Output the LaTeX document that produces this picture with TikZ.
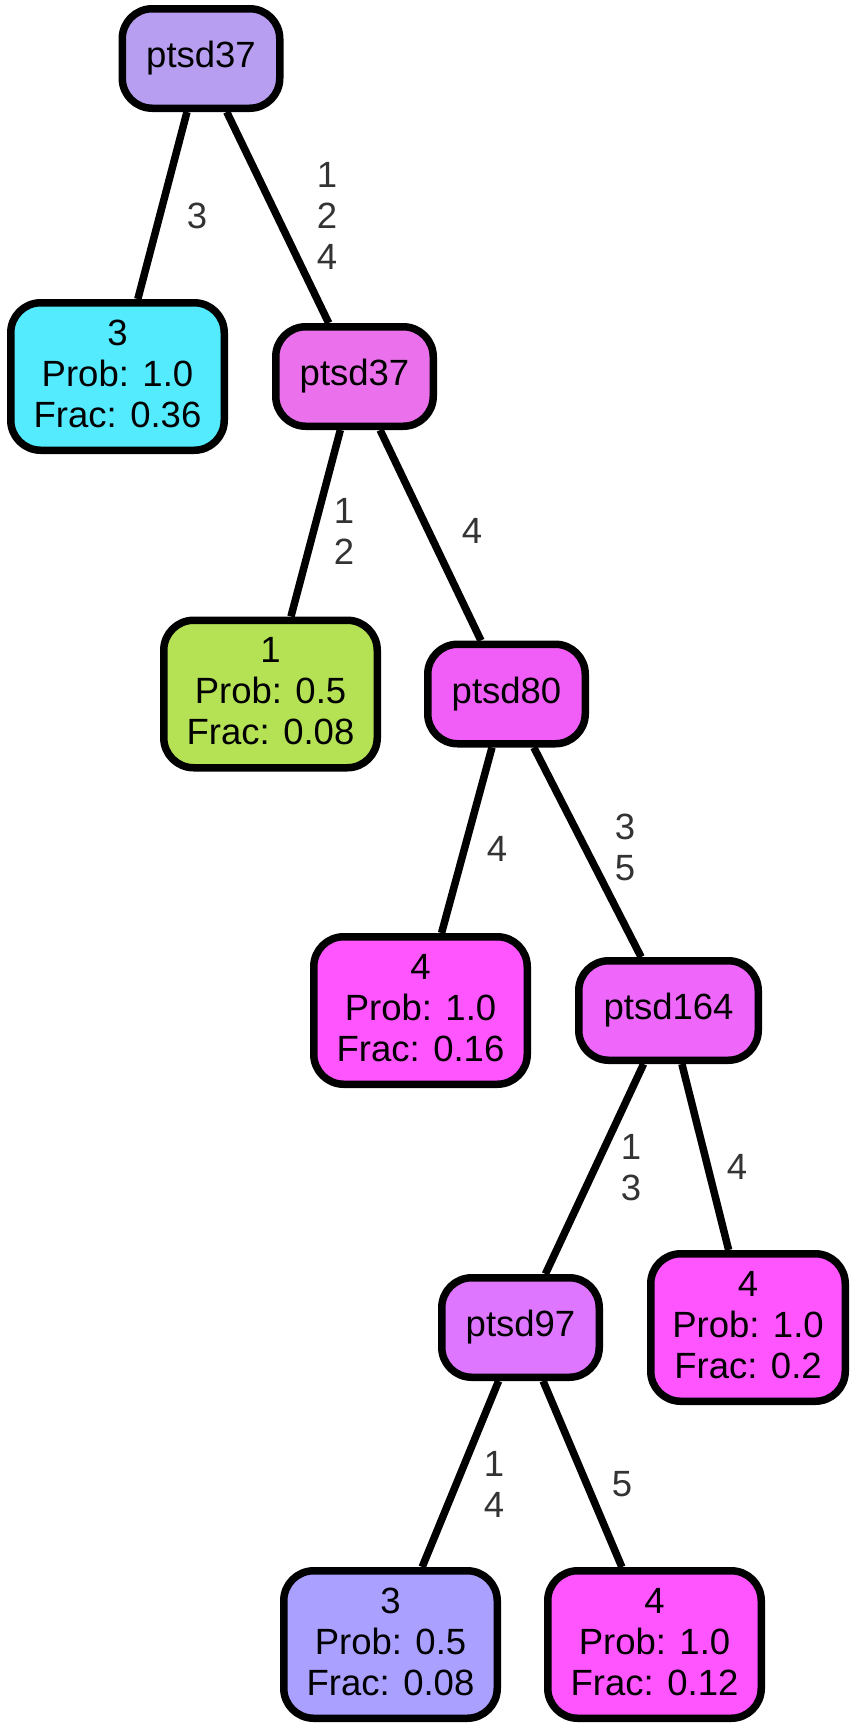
\documentclass[tikz,border=0pt]{standalone}
\usepackage{fontspec}
\setmainfont{Liberation Sans}
\usetikzlibrary{backgrounds}
\definecolor{cRoot}{HTML}{B89EF1}
\definecolor{cCyan}{HTML}{55EBFF}
\definecolor{cPink}{HTML}{EB70EB}
\definecolor{cGreen}{HTML}{B5E155}
\definecolor{cEighty}{HTML}{F15EF7}
\definecolor{cMag}{HTML}{FF55FF}
\definecolor{cOneSix}{HTML}{EE66FA}
\definecolor{cNineSeven}{HTML}{DE76FF}
\definecolor{cLav}{HTML}{AAA0FF}
\definecolor{cLabel}{HTML}{333333}
\tikzset{
  base/.style={draw=black, line width=7.5pt, rounded corners=30pt, inner sep=0pt,
    font=\fontsize{36.5}{41}\selectfont, align=center},
  inner/.style={base, minimum width=157.5pt, minimum height=99.5pt},
  leaf/.style={base, minimum width=213.5pt, minimum height=147.5pt, text height=108pt, text depth=7pt},
  conn/.style={line width=7.5pt, draw=black},
  elabel/.style={font=\fontsize{36.5}{41}\selectfont, text=cLabel, align=center, inner sep=0pt}
}
\begin{document}
\begin{tikzpicture}[x=1pt,y=-1pt]
\useasboundingbox (0,0) rectangle (858,1729);
% nodes
\node[inner, fill=cRoot] (root) at (201,58.5) {ptsd37};
\node[leaf, fill=cCyan] (lcyan) at (117.5,376.5) {3\\Prob: 1.0\\Frac: 0.36};
\node[inner, fill=cPink] (pink) at (354.5,376.5) {ptsd37};
\node[leaf, fill=cGreen] (lgreen) at (270.5,694) {1\\Prob: 0.5\\Frac: 0.08};
\node[inner, fill=cEighty] (p80) at (506.5,694) {ptsd80};
\node[leaf, fill=cMag] (lsixteen) at (420.5,1010.5) {4\\Prob: 1.0\\Frac: 0.16};
\node[inner, fill=cOneSix, minimum width=179.5pt] (p164) at (668.5,1010.5) {ptsd164};
\node[inner, fill=cNineSeven] (p97) at (520.5,1327.5) {ptsd97};
\node[leaf, fill=cMag, minimum width=194.5pt] (ltwenty) at (748,1327.5) {4\\Prob: 1.0\\Frac: 0.2};
\node[leaf, fill=cLav] (leight) at (390.5,1644.5) {3\\Prob: 0.5\\Frac: 0.08};
\node[leaf, fill=cMag] (ltwelve) at (654.5,1644.5) {4\\Prob: 1.0\\Frac: 0.12};
% edges
\begin{scope}[on background layer]
\fill[white] (0,0) rectangle (858,1729);
\draw[conn] (root) -- (lcyan);
\draw[conn] (root) -- (pink);
\draw[conn] (pink) -- (lgreen);
\draw[conn] (pink) -- (p80);
\draw[conn] (p80) -- (lsixteen);
\draw[conn] (p80) -- (p164);
\draw[conn] (p164) -- (p97);
\draw[conn] (p164) -- (ltwenty);
\draw[conn] (p97) -- (leight);
\draw[conn] (p97) -- (ltwelve);
\end{scope}
% edge labels
\node[elabel] (la) at (197,216) {3};
\node[elabel] (lb) at (327,216) {1\\2\\4};
\node[elabel] (lc) at (344,531) {1\\2};
\node[elabel] (ld) at (472,531) {4};
\node[elabel] (le) at (497,849) {4};
\node[elabel] (lf) at (625,847) {3\\5};
\node[elabel] (lg) at (631,1167.5) {1\\3};
\node[elabel] (lh) at (737,1167) {4};
\node[elabel] (li) at (494,1484) {1\\4};
\node[elabel] (lj) at (622,1484) {5};
\end{tikzpicture}
\end{document}
